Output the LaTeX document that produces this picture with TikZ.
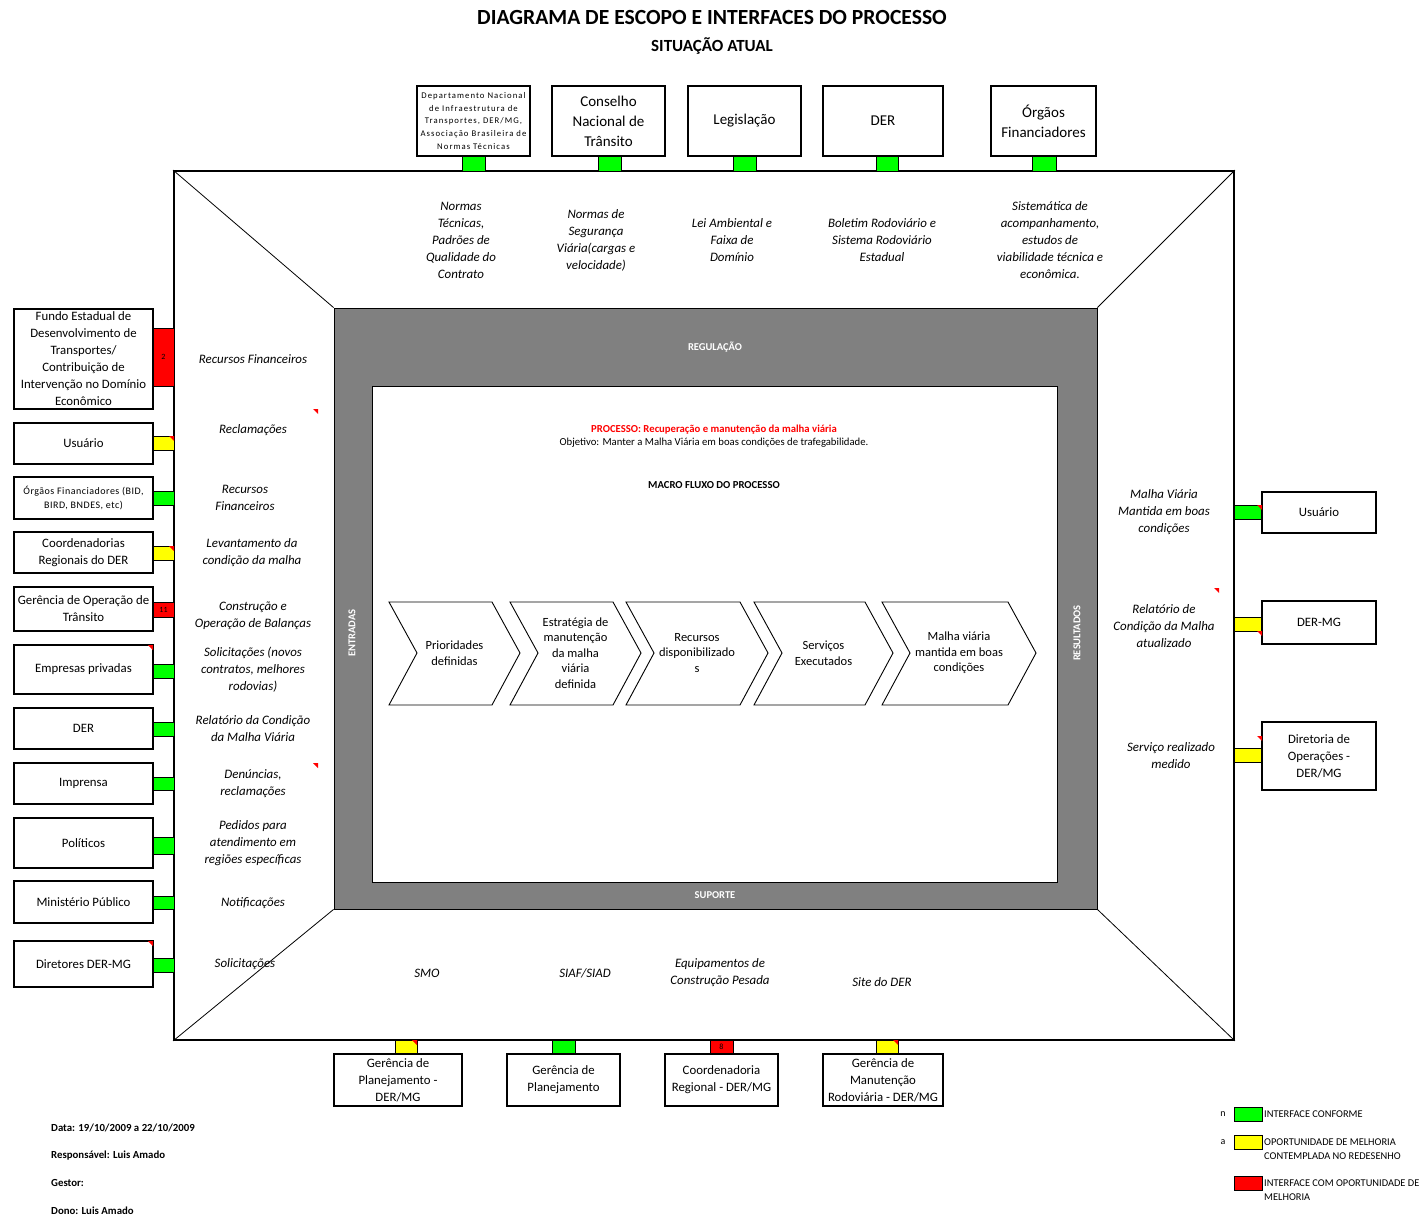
\documentclass[tikz,border=0pt]{standalone}
\usepackage{fontspec}
\setmainfont{Carlito}
\newcommand\fs[2]{\fontsize{#1}{#2}\selectfont}
\definecolor{cgreen}{RGB}{0,255,0}
\definecolor{cyellow}{RGB}{255,255,0}
\definecolor{cred}{RGB}{255,0,0}
\definecolor{cgray}{RGB}{128,128,128}
\tikzset{
  box/.style={draw, line width=1.1pt, fill=white, align=center, inner sep=0pt, font=\fs{12.8}{17}},
  cn/.style={draw, line width=0.8pt, inner sep=0pt, font=\fs{8}{9}},
  lab/.style={align=center, inner sep=0pt, font=\fs{12.9}{17}\itshape},
  chevtxt/.style={align=center, inner sep=0pt, font=\fs{12.5}{15.5}},
  graytxt/.style={text=white, font=\fs{10.5}{12}\bfseries, inner sep=0pt},
  legtxt/.style={anchor=west, align=left, inner sep=0pt, font=\fs{10.4}{14}},
  foot/.style={anchor=west, inner sep=0pt, font=\fs{10.8}{12}\bfseries},
  chevshape/.style={draw, line width=0.9pt, fill=white}
}
\newcommand\bx[7][]{\node[box,#1,minimum width={#5-#3},minimum height={#6-#4}] (#2) at ({(#3+#5)/2},{(#4+#6)/2}) {#7};}
\newcommand\cnn[7]{\node[cn,fill=#2,minimum width={#5-#3},minimum height={#6-#4}] (#1) at ({(#3+#5)/2},{(#4+#6)/2}) {#7};}
\newcommand\ctri[2]{\fill[cred] ({#1-5},#2) -- (#1,#2) -- (#1,{#2+5}) -- cycle;}
\newcommand\chev[4]{\draw[chevshape] (#2,602) -- ({#3-28},602) -- (#3,653) -- ({#3-28},705) -- (#2,705) -- ({#2+28},653) -- cycle;
  \node[chevtxt] (#1) at ({(#2+#3)/2},653) {#4};}
\begin{document}
\begin{tikzpicture}[x=1pt,y=-1pt]
\useasboundingbox[fill=white] (0,0) rectangle (1422,1217);
% titles
\node[font=\fs{21.6}{24}\bfseries] (title) at (712,17) {DIAGRAMA DE ESCOPO E INTERFACES DO PROCESSO};
\node[font=\fs{17}{19}\bfseries] (sub) at (712,46) {SITUAÇÃO ATUAL};
% frames
\node[draw, line width=1.8pt, minimum width=1060, minimum height=869, inner sep=0] (outer) at (704,605.5) {};
\node[draw, fill=cgray, line width=0.8pt, minimum width=763, minimum height=601, inner sep=0] (reg) at (715.5,608.5) {};
\node[draw, fill=white, line width=0.8pt, minimum width=685, minimum height=496, inner sep=0] (proc) at (714.5,634) {};
\draw[line width=0.8pt] (outer.north west) -- (reg.north west);
\draw[line width=0.8pt] (outer.north east) -- (reg.north east);
\draw[line width=0.8pt] (outer.south west) -- (reg.south west);
\draw[line width=0.8pt] (outer.south east) -- (reg.south east);
\node[graytxt] (regl) at (715,347) {REGULAÇÃO};
\node[graytxt] (supl) at (715,895) {SUPORTE};
\node[graytxt, rotate=90] (entl) at (352,633) {ENTRADAS};
\node[graytxt, rotate=90] (resl) at (1077,633) {RESULTADOS};
% process text
\node[font=\fs{10.7}{13}\bfseries, text=cred, inner sep=0] (ptitle) at (714,430) {PROCESSO: Recuperação e manutenção da malha viária};
\node[font=\fs{10.7}{13}, inner sep=0] (pobj) at (714,443) {Objetivo: Manter a Malha Viária em boas condições de trafegabilidade.};
\node[font=\fs{10.7}{13}\bfseries, inner sep=0] (macro) at (714,485) {MACRO FLUXO DO PROCESSO};
% chevrons
\chev{ch1}{389}{520}{Prioridades\\definidas}
\chev{ch2}{510}{641}{Estratégia de\\manutenção\\da malha\\viária\\definida}
\chev{ch3}{626}{768}{Recursos\\disponibilizado\\s}
\chev{ch4}{754}{893}{Serviços\\Executados}
\chev{ch5}{882}{1036}{Malha viária\\mantida em boas\\condições}
% top connectors and boxes
\cnn{ct1}{cgreen}{462}{156}{485}{171}{}
\cnn{ct2}{cgreen}{598}{156}{621}{171}{}
\cnn{ct3}{cgreen}{733}{156}{756}{171}{}
\cnn{ct4}{cgreen}{876}{156}{898}{171}{}
\cnn{ct5}{cgreen}{1032}{156}{1056}{171}{}
\bx[font=\fs{8.7}{12.7}\addfontfeature{LetterSpace=12}]{t1}{417}{86}{530}{156}{Departamento Nacional\\de Infraestrutura de\\Transportes, DER/MG,\\Associação Brasileira de\\Normas Técnicas}
\bx[font=\fs{15}{20}]{t2}{552}{86}{665}{156}{Conselho\\Nacional de\\Trânsito}
\bx[font=\fs{15}{20}]{t3}{688}{86}{801}{156}{Legislação}
\bx[font=\fs{15}{20}]{t4}{823}{86}{943}{156}{DER}
\bx[font=\fs{15}{20}]{t5}{991}{86}{1096}{156}{Órgãos\\Financiadores}
% top labels
\node[lab] (tl1) at (461,240) {Normas\\Técnicas,\\Padrões de\\Qualidade do\\Contrato};
\node[lab] (tl2) at (596,240) {Normas de\\Segurança\\Viária(cargas e\\velocidade)};
\node[lab] (tl3) at (732,240) {Lei Ambiental e\\Faixa de\\Domínio};
\node[lab] (tl4) at (882,240) {Boletim Rodoviário e\\Sistema Rodoviário\\Estadual};
\node[lab] (tl5) at (1050,240) {Sistemática de\\acompanhamento,\\estudos de\\viabilidade técnica e\\econômica.};
% left connectors
\cnn{cl1}{cred}{153}{328}{174}{386}{2}
\cnn{cl2}{cyellow}{153}{436}{174}{450}{}
\cnn{cl3}{cgreen}{153}{491}{174}{505}{}
\cnn{cl4}{cyellow}{153}{546}{174}{560}{}
\cnn{cl5}{cred}{153}{602}{174}{617}{11}
\cnn{cl6}{cgreen}{153}{664}{174}{678}{}
\cnn{cl7}{cgreen}{153}{722}{174}{736}{}
\cnn{cl8}{cgreen}{153}{777}{174}{790}{}
\cnn{cl9}{cgreen}{153}{837}{174}{854}{}
\cnn{cl10}{cgreen}{153}{896}{174}{909}{}
\cnn{cl11}{cgreen}{153}{958}{174}{972}{}
% left boxes
\bx{l1}{14}{309}{153}{409}{Fundo Estadual de\\Desenvolvimento de\\Transportes/\\Contribuição de\\Intervenção no Domínio\\Econômico}
\bx{l2}{14}{423}{153}{464}{Usuário}
\bx[font=\fs{10}{14}\addfontfeature{LetterSpace=5}]{l3}{14}{477}{153}{519}{Órgãos Financiadores (BID,\\BIRD, BNDES, etc)}
\bx{l4}{14}{532}{153}{573}{Coordenadorias\\Regionais do DER}
\bx{l5}{14}{587}{153}{631}{Gerência de Operação de\\Trânsito}
\bx{l6}{14}{645}{153}{694}{Empresas privadas}
\bx{l7}{14}{708}{153}{749}{DER}
\bx{l8}{14}{763}{153}{804}{Imprensa}
\bx{l9}{14}{818}{153}{868}{Políticos}
\bx{l10}{14}{881}{153}{923}{Ministério Público}
\bx{l11}{14}{941}{153}{987}{Diretores DER-MG}
% left labels
\node[lab] (ll1) at (253,359) {Recursos Financeiros};
\node[lab] (ll2) at (253,430) {Reclamações};
\node[lab] (ll3) at (245,498) {Recursos\\Financeiros};
\node[lab] (ll4) at (252,553) {Levantamento da\\condição da malha};
\node[lab] (ll5) at (253,616) {Construção e\\Operação de Balanças};
\node[lab] (ll6) at (253,670) {Solicitações (novos\\contratos, melhores\\rodovias)};
\node[lab] (ll7) at (253,729) {Relatório da Condição\\da Malha Viária};
\node[lab] (ll8) at (253,784) {Denúncias,\\reclamações};
\node[lab] (ll9) at (253,843) {Pedidos para\\atendimento em\\regiões específicas};
\node[lab] (ll10) at (253,903) {Notificações};
\node[lab] (ll11) at (245,964) {Solicitações};
% right connectors and boxes
\cnn{cr1}{cgreen}{1234}{505}{1262}{519}{}
\cnn{cr2}{cyellow}{1234}{617}{1262}{631}{}
\cnn{cr3}{cyellow}{1234}{748}{1262}{762}{}
\bx{r1}{1262}{492}{1376}{533}{Usuário}
\bx{r2}{1262}{601}{1376}{644}{DER-MG}
\bx{r3}{1262}{722}{1376}{790}{Diretoria de\\Operações -\\DER/MG}
\node[lab] (rl1) at (1164,512) {Malha Viária\\Mantida em boas\\condições};
\node[lab] (rl2) at (1164,626) {Relatório de\\Condição da Malha\\atualizado};
\node[lab] (rl3) at (1171,756) {Serviço realizado\\medido};
% bottom connectors and boxes
\cnn{cb1}{cyellow}{395}{1040}{417}{1054}{}
\cnn{cb2}{cgreen}{552}{1040}{575}{1054}{}
\cnn{cb3}{cred}{710}{1040}{733}{1054}{8}
\cnn{cb4}{cyellow}{876}{1040}{898}{1054}{}
\bx{b1}{334}{1054}{462}{1106}{Gerência de\\Planejamento -\\DER/MG}
\bx{b2}{507}{1054}{620}{1106}{Gerência de\\Planejamento}
\bx{b3}{665}{1054}{778}{1106}{Coordenadoria\\Regional - DER/MG}
\bx{b4}{823}{1054}{943}{1106}{Gerência de\\Manutenção\\Rodoviária - DER/MG}
\node[lab] (bl1) at (427,973) {SMO};
\node[lab] (bl2) at (585,973) {SIAF/SIAD};
\node[lab] (bl3) at (720,973) {Equipamentos de\\Construção Pesada};
\node[lab] (bl4) at (882,982) {Site do DER};
% comment markers
\ctri{174}{436}
\ctri{174}{546}
\ctri{318}{409}
\ctri{153}{645}
\ctri{318}{763}
\ctri{153}{941}
\ctri{1262}{505}
\ctri{1219}{588}
\ctri{1262}{631}
\ctri{1262}{736}
\ctri{417}{1040}
\ctri{898}{1040}
% legend
\node[font=\fs{10}{10}, inner sep=0] (ln) at (1223,1114) {n};
\node[font=\fs{10}{10}, inner sep=0] (la) at (1223,1142) {a};
\cnn{lg1}{cgreen}{1234}{1107}{1262}{1121}{}
\cnn{lg2}{cyellow}{1234}{1135}{1262}{1149}{}
\cnn{lg3}{cred}{1234}{1176}{1262}{1190}{}
\node[legtxt] (lt1) at (1264,1114) {INTERFACE CONFORME};
\node[legtxt] (lt2) at (1264,1149) {OPORTUNIDADE DE MELHORIA\\CONTEMPLADA NO REDESENHO};
\node[legtxt] (lt3) at (1264,1190) {INTERFACE COM OPORTUNIDADE DE\\MELHORIA};
% footer
\node[foot] (f1) at (51,1128) {Data: 19/10/2009 a 22/10/2009};
\node[foot] (f2) at (51,1156) {Responsável: Luis Amado};
\node[foot] (f3) at (51,1183) {Gestor:};
\node[foot] (f4) at (51,1211) {Dono: Luis Amado};
\end{tikzpicture}
\end{document}
